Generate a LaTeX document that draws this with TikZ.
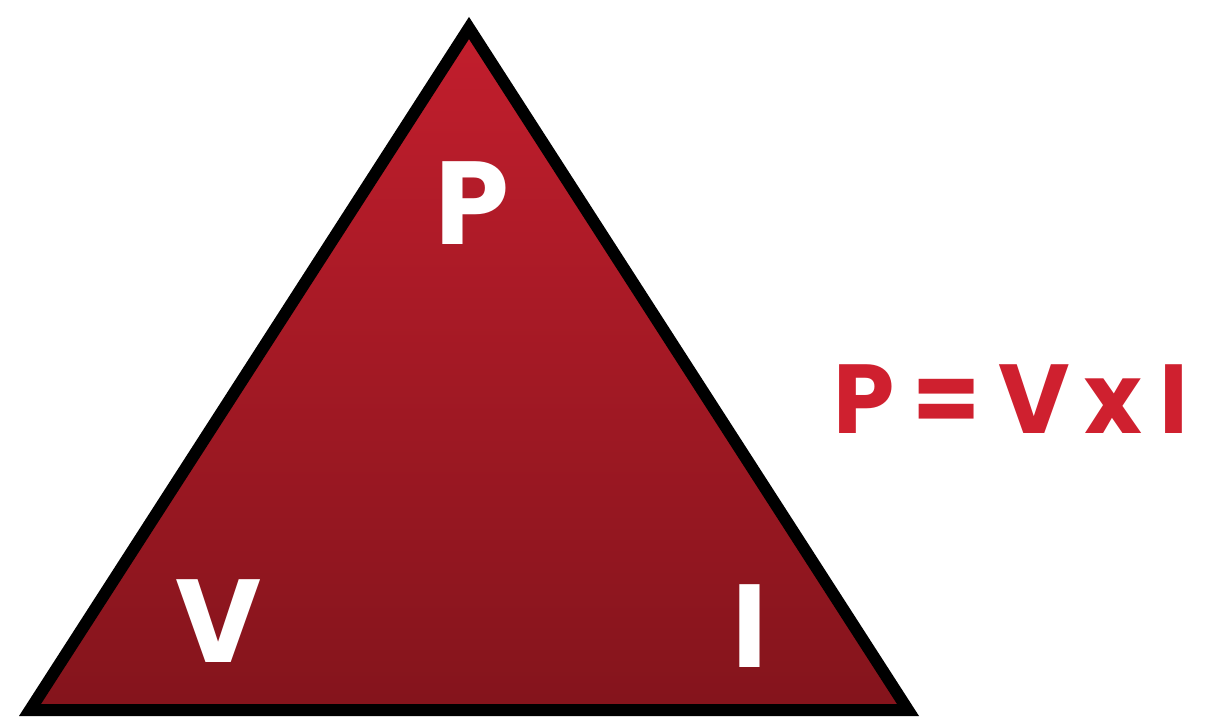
\documentclass[tikz,border=0pt]{standalone}
\usepackage{fontspec}
\setmainfont{Poppins}
\usepackage{xcolor}
\usepackage{tikz}
\usetikzlibrary{positioning,calc}
\definecolor{triTop}{RGB}{194,30,45}
\definecolor{triBot}{RGB}{132,20,28}
\definecolor{eqRed}{RGB}{207,32,47}
\tikzset{
  triedge/.style={draw=black, line width=12pt, line join=miter},
  letter/.style={text=white, font=\fontsize{118}{120}\selectfont\bfseries,
                 inner sep=0pt, anchor=base},
  formula/.style={text=eqRed, font=\fontsize{98}{100}\selectfont\bfseries,
                  inner sep=0pt, anchor=base}
}
\begin{document}
\begin{tikzpicture}[x=1pt, y=-1pt]
    \useasboundingbox (0,0) rectangle (1215,720);

    % corners of the triangle
    \coordinate (top)   at (469, 28);
    \coordinate (left)  at (30, 710);
    \coordinate (right) at (908, 710);

    \shade[top color=triTop, bottom color=triBot] (top)--(left)--(right)--cycle;
    \draw[triedge] (top)--(left)--(right)--cycle;

    % letters
    \node[letter] (P) at (472, 244) {P};
    \node[letter] (V) at (219, 662) {V};
    \node[letter] (I) at (750, 667) {I};

    % formula
    \node[formula] (eq) at (1011, 433)
      {P\hspace{18pt}=\hspace{18pt}V\hspace{14pt}x\hspace{18pt}I};
\end{tikzpicture}
\end{document}
